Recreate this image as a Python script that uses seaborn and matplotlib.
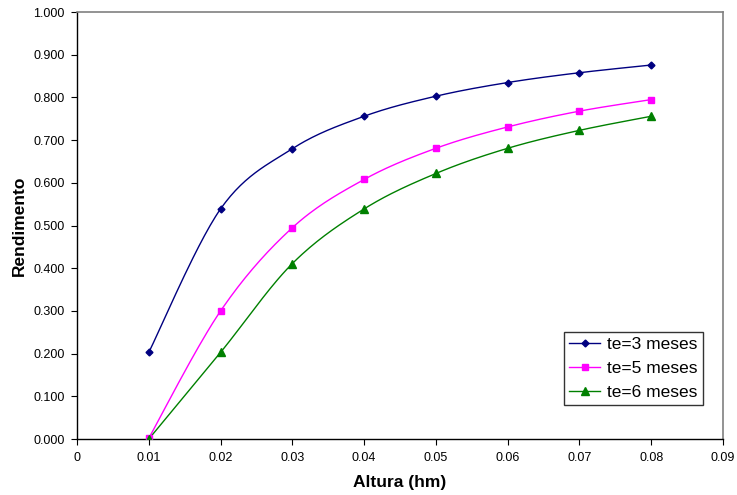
import numpy as np
import pandas as pd
import matplotlib
matplotlib.use('Agg')
import seaborn as sns
import matplotlib.pyplot as plt
from matplotlib.lines import Line2D

altura = [0.01, 0.02, 0.03, 0.04, 0.05, 0.06, 0.07, 0.08]
te3 = [0.203, 0.539, 0.680, 0.756, 0.803, 0.835, 0.858, 0.876]
te5 = [0.002, 0.300, 0.495, 0.608, 0.681, 0.731, 0.768, 0.795]
te6 = [0.000, 0.203, 0.411, 0.539, 0.622, 0.681, 0.723, 0.756]
series = ['te=3 meses', 'te=5 meses', 'te=6 meses']
colors = {'te=3 meses': '#000080', 'te=5 meses': '#FF00FF', 'te=6 meses': '#008000'}
markers = {'te=3 meses': 'D', 'te=5 meses': 's', 'te=6 meses': '^'}
msizes = {'te=3 meses': 3.5, 'te=5 meses': 5, 'te=6 meses': 5.5}

df = pd.DataFrame({'x': altura * 3, 'y': te3 + te5 + te6,
                   'serie': [s for s in series for _ in altura]})


def smooth(x, y, n=30):
    # Excel-style smoothed line: Bezier segments with Catmull-Rom control points
    p = np.column_stack([x, y])
    pts = [p[0]] + list(p) + [p[-1]]
    out = []
    t = np.linspace(0, 1, n)[:, None]
    for i in range(1, len(pts) - 2):
        p0, p1, p2, p3 = pts[i - 1], pts[i], pts[i + 1], pts[i + 2]
        c1 = p1 + (p2 - p0) / 6
        c2 = p2 - (p3 - p1) / 6
        seg = ((1 - t) ** 3) * p1 + 3 * ((1 - t) ** 2) * t * c1 + 3 * (1 - t) * t ** 2 * c2 + t ** 3 * p2
        out.append(seg)
    return np.vstack(out)


rows = []
for s in series:
    sub = df[df.serie == s]
    c = smooth(sub.x.values, sub.y.values)
    rows.append(pd.DataFrame({'x': c[:, 0], 'y': c[:, 1], 'serie': s}))
curves = pd.concat(rows)

plt.rcParams['font.family'] = ['Liberation Sans', 'DejaVu Sans']
fig = plt.figure(figsize=(7.37, 4.95), dpi=100)
ax = fig.add_axes([0.1045, 0.113, 0.8765, 0.8626])

sns.lineplot(data=curves, x='x', y='y', hue='serie', palette=colors, sort=False,
             estimator=None, linewidth=1.0, legend=False, ax=ax)
for s in series:
    sub = df[df.serie == s]
    ax.plot(sub.x, sub.y, linestyle='none', marker=markers[s], markersize=msizes[s],
            color=colors[s], zorder=3)

ax.set_xlim(0, 0.09)
ax.set_ylim(0, 1.0)
ax.set_xticks(np.arange(0, 0.0901, 0.01))
ax.set_xticklabels(['0'] + ['%.2f' % v for v in np.arange(0.01, 0.0901, 0.01)])
ax.set_yticks(np.arange(0, 1.001, 0.1))
ax.set_yticklabels(['%.3f' % v for v in np.arange(0, 1.001, 0.1)])
ax.tick_params(direction='out', length=4, width=0.8, labelsize=9, colors='black', pad=5)

for side in ['left', 'bottom']:
    ax.spines[side].set_color('black')
    ax.spines[side].set_linewidth(1.0)
for side in ['top', 'right']:
    ax.spines[side].set_color('#808080')
    ax.spines[side].set_linewidth(1.2)

ax.set_xlabel('Altura (hm)', fontsize=12.5, fontweight='bold', labelpad=8)
ax.set_ylabel('Rendimento', fontsize=12.5, fontweight='bold', labelpad=4.5)

handles = [Line2D([], [], color=colors[s], marker=markers[s], markersize=msizes[s], linewidth=1.0)
           for s in series]
leg = ax.legend(handles, series, loc='lower right', bbox_to_anchor=(0.969, 0.08),
                borderaxespad=0, fontsize=12.5, frameon=True, fancybox=False,
                handlelength=1.8, handletextpad=0.4, borderpad=0.3, labelspacing=0.5)
leg.get_frame().set_edgecolor('black')
leg.get_frame().set_linewidth(1.0)

plt.savefig('out.png', dpi=100)
